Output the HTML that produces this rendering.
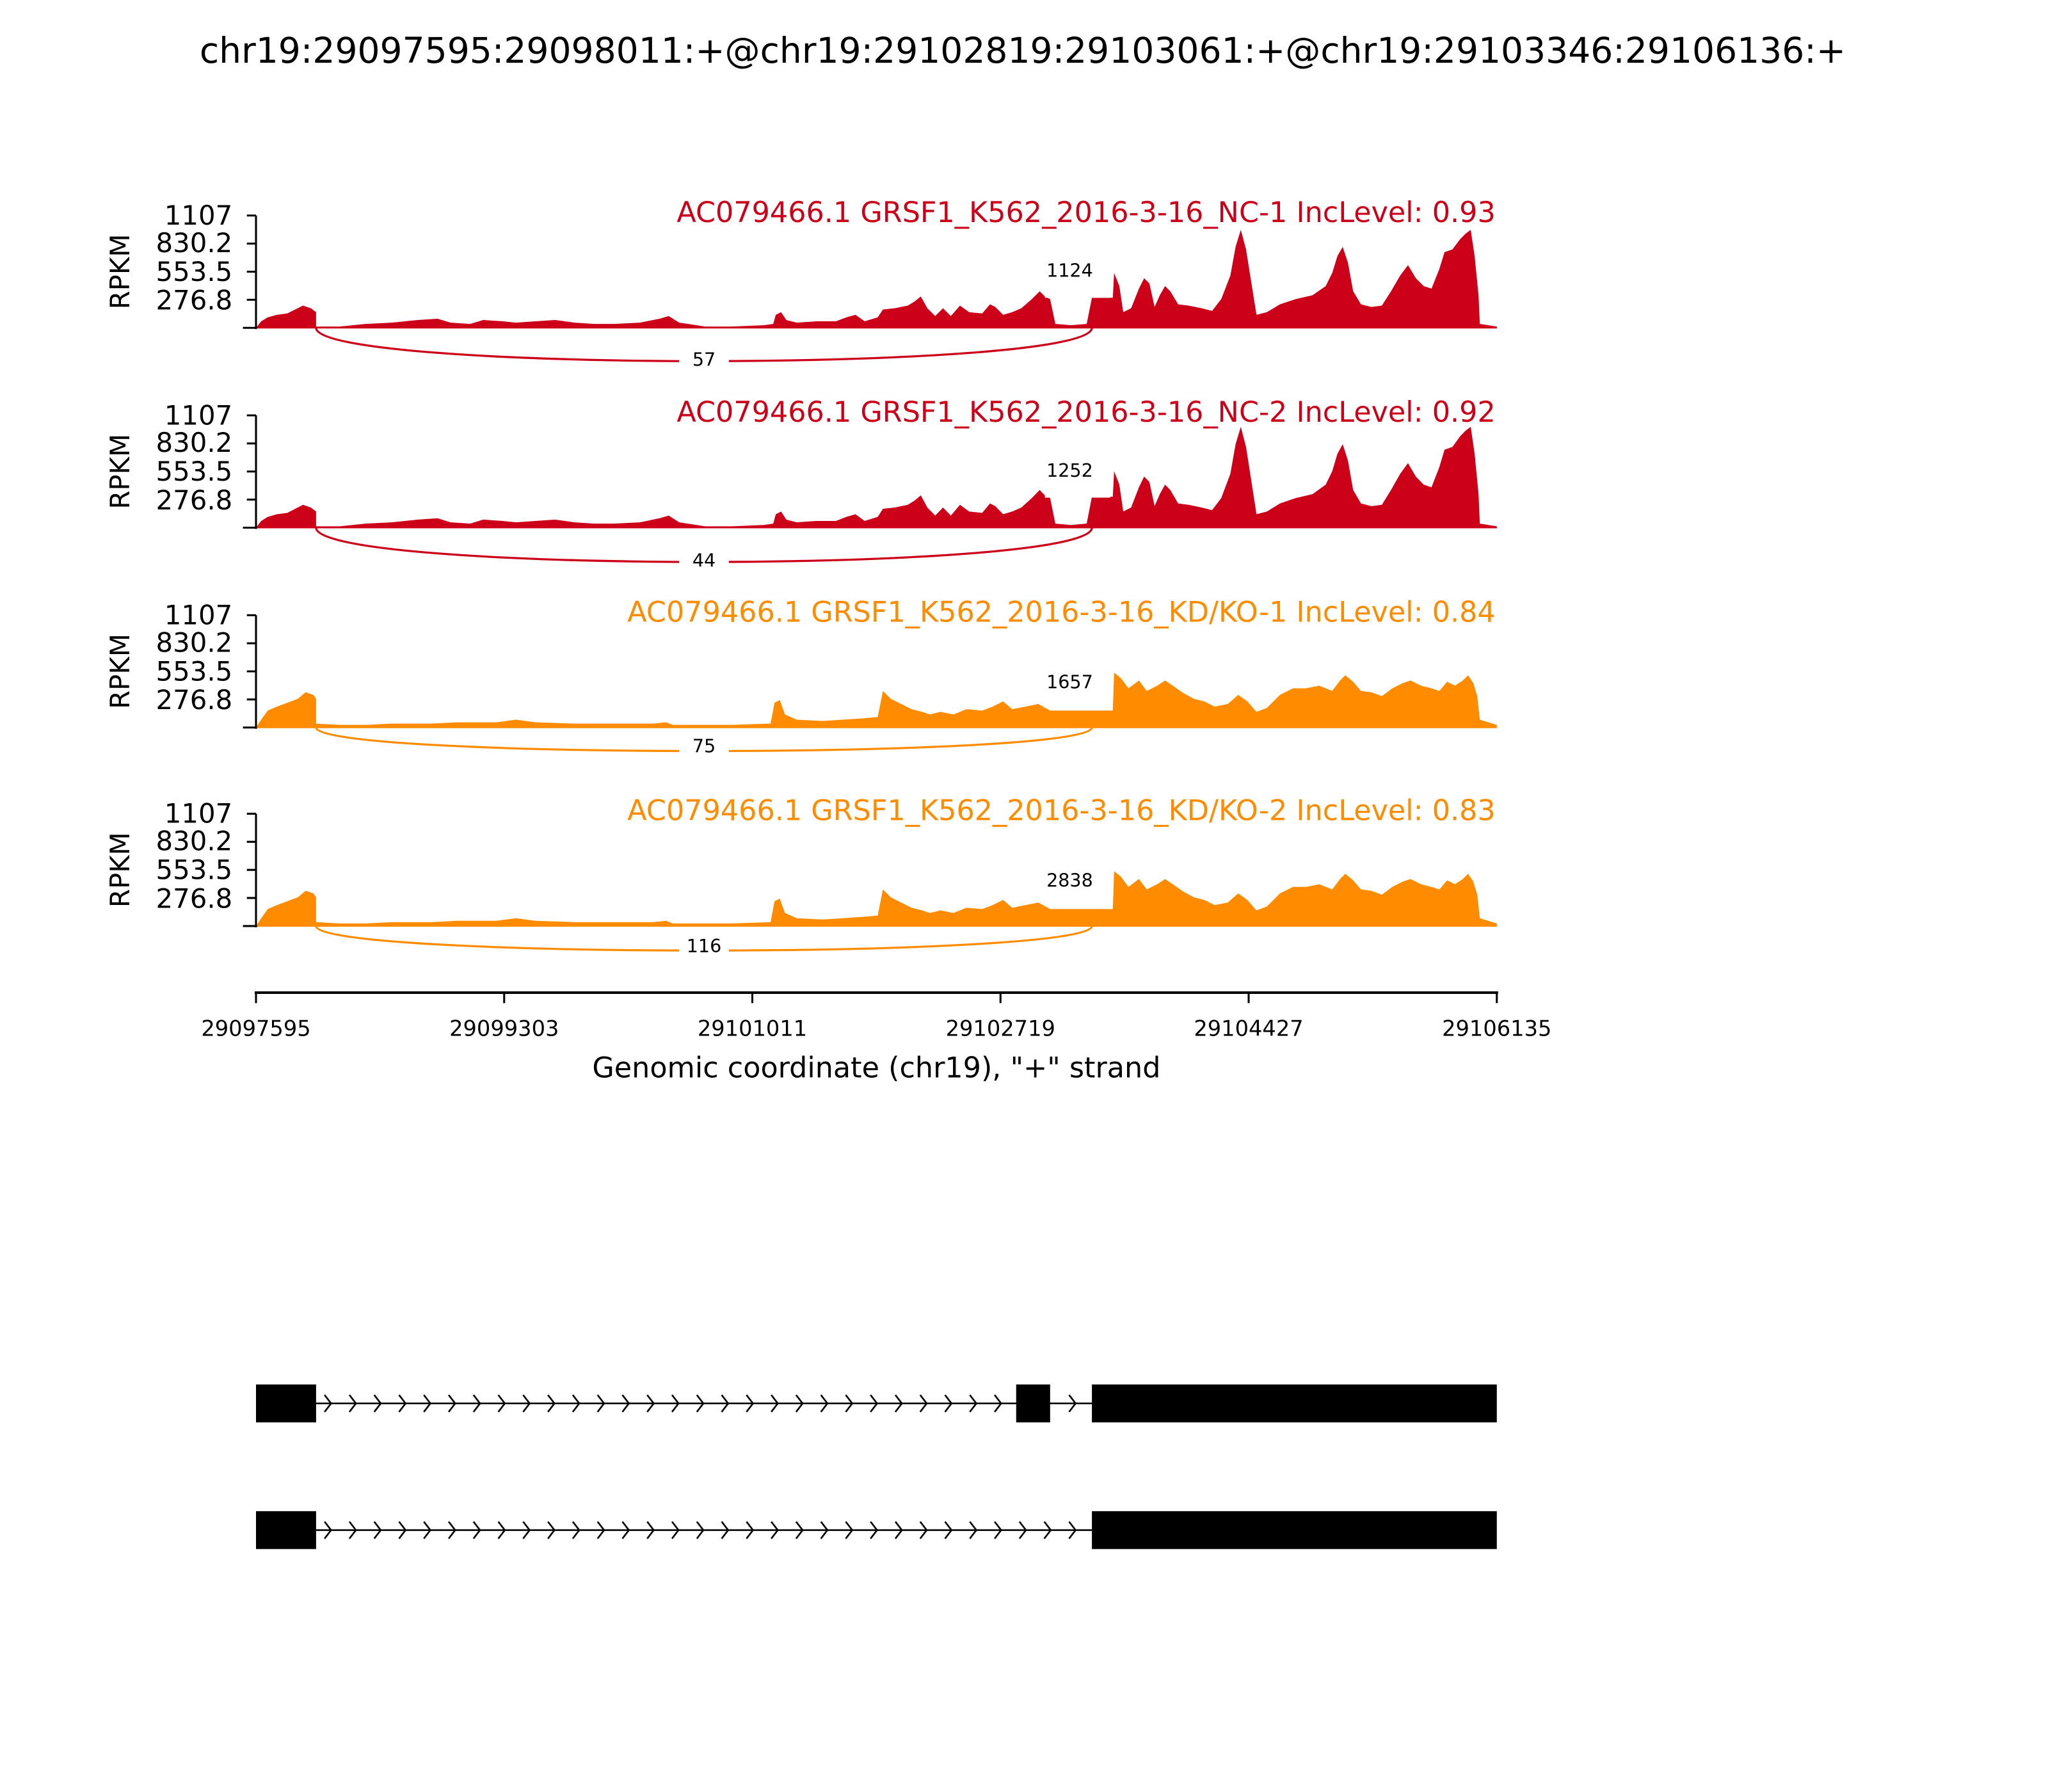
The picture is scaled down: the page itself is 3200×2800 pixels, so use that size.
<!DOCTYPE html>
<html><head><meta charset="utf-8"><style>html,body{margin:0;padding:0;background:#fff}svg{display:block}</style></head>
<body>
<svg width="3200" height="2800" viewBox="0 0 1568 1372" xmlns="http://www.w3.org/2000/svg" font-family="DejaVu Sans, Liberation Sans, sans-serif">
<defs>
<pattern id="chev" x="248" y="1060" width="19" height="30" patternUnits="userSpaceOnUse">
<path d="M0.5,8 L5.5,14.5 L0.5,21" fill="none" stroke="#000" stroke-width="1.3"/>
</pattern>
<pattern id="chev2" x="248" y="1157" width="19" height="30" patternUnits="userSpaceOnUse">
<path d="M0.5,8 L5.5,14.5 L0.5,21" fill="none" stroke="#000" stroke-width="1.3"/>
</pattern>
<polygon id="red" points="196,0 200,-5 205,-8 212,-10 220,-11 226,-14 232,-17 238,-15 242,-12 242,-1 260,-1 280,-3 300,-4 320,-6 335,-7 345,-4 360,-3 370,-6 385,-5 395,-4 410,-5 425,-6 440,-4 455,-3 470,-3 490,-4 505,-7 512,-9 520,-4 540,-1 560,-1 585,-2 592,-3 594,-10 598,-12 602,-6 610,-4 625,-5 640,-5 648,-8 655,-10 662,-5 672,-8 676,-14 685,-15 695,-17 700,-20 705,-24 710,-15 716,-9 722,-15 728,-9 735,-17 742,-12 752,-11 758,-18 762,-16 768,-10 775,-12 782,-15 790,-22 796,-28 800,-24 804,-22 808,-3 820,-2 832,-3 836,-23 852,-23 853,-42 857,-32 860,-12 866,-15 872,-30 876,-38 880,-34 884,-16 888,-25 892,-32 896,-28 902,-18 910,-17 920,-15 928,-13 935,-22 942,-40 946,-62 950,-75 954,-60 958,-35 962,-10 970,-12 980,-18 992,-22 1005,-25 1015,-32 1020,-42 1024,-55 1028,-62 1032,-50 1036,-28 1042,-18 1050,-16 1058,-17 1065,-28 1072,-40 1078,-48 1084,-38 1090,-32 1096,-30 1102,-45 1106,-58 1112,-60 1118,-68 1122,-72 1126,-75 1129,-55 1132,-25 1133,-3 1146,-1 1146,0"/>
<polygon id="org" points="196,0 200,-6 205,-13 212,-16 220,-19 228,-22 234,-27 240,-25 242,-22 242,-3 260,-2 280,-2 300,-3 330,-3 350,-4 380,-4 395,-6 410,-4 440,-3 470,-3 500,-3 510,-4 515,-2 545,-2 560,-2 590,-3 593,-19 597,-21 601,-10 610,-6 630,-5 645,-6 660,-7 672,-8 676,-28 682,-22 690,-18 698,-14 706,-12 712,-10 720,-12 730,-10 740,-14 752,-13 760,-16 768,-20 775,-14 785,-16 795,-18 804,-13 836,-13 852,-13 853,-42 858,-38 864,-30 872,-36 878,-28 886,-32 892,-36 898,-32 905,-27 914,-22 922,-20 930,-16 940,-18 948,-25 955,-20 962,-12 970,-15 980,-25 990,-30 1000,-30 1010,-32 1020,-28 1026,-36 1030,-40 1036,-35 1042,-28 1050,-27 1058,-24 1066,-30 1074,-34 1080,-36 1088,-32 1096,-30 1102,-28 1108,-35 1114,-32 1120,-36 1124,-40 1128,-34 1131,-24 1133,-6 1146,-2 1146,0"/>
</defs>

<text x="783" y="48" font-size="27" text-anchor="middle">chr19:29097595:29098011:+@chr19:29102819:29103061:+@chr19:29103346:29106136:+</text>

<g transform="translate(0,251)">
<use href="#red" fill="#cc0018"/>
<line x1="196" y1="0" x2="1146" y2="0" stroke="#cc0018" stroke-width="1"/>
</g>
<g transform="translate(0,404)">
<use href="#red" fill="#cc0018" transform="scale(1,1.03)"/>
<line x1="196" y1="0" x2="1146" y2="0" stroke="#cc0018" stroke-width="1"/>
</g>
<g transform="translate(0,557)">
<use href="#org" fill="#ff8c00"/>
<line x1="196" y1="0" x2="1146" y2="0" stroke="#ff8c00" stroke-width="1"/>
</g>
<g transform="translate(0,709)">
<use href="#org" fill="#ff8c00"/>
<line x1="196" y1="0" x2="1146" y2="0" stroke="#ff8c00" stroke-width="1"/>
</g>

<g font-size="14" text-anchor="middle">
<rect x="800" y="195" width="50" height="33" fill="#fff"/><text x="819" y="212">1124</text>
<rect x="800" y="348" width="50" height="33" fill="#fff"/><text x="819" y="365">1252</text>
<rect x="800" y="510" width="50" height="32" fill="#fff"/><text x="819" y="527">1657</text>
<rect x="800" y="662" width="50" height="32" fill="#fff"/><text x="819" y="679">2838</text>
</g>

<g fill="none" stroke-width="1.6">
<path d="M242,251 C242,285 836,285 836,251" stroke="#cc0018"/>
<path d="M242,404 C242,439 836,439 836,404" stroke="#cc0018"/>
<path d="M242,557 C242,581 836,581 836,557" stroke="#ff8c00"/>
<path d="M242,709 C242,734 836,734 836,709" stroke="#ff8c00"/>
</g>
<g font-size="14" text-anchor="middle">
<rect x="520" y="266" width="38" height="18" fill="#fff"/><text x="539" y="280">57</text>
<rect x="520" y="420" width="38" height="18" fill="#fff"/><text x="539" y="434">44</text>
<rect x="520" y="562" width="38" height="18" fill="#fff"/><text x="539" y="576">75</text>
<rect x="520" y="715" width="38" height="18" fill="#fff"/><text x="539" y="729">116</text>
</g>

<g font-size="21.8" text-anchor="end">
<text x="1145" y="170" fill="#cc0018">AC079466.1 GRSF1_K562_2016-3-16_NC-1 IncLevel: 0.93</text>
<text x="1145" y="323" fill="#cc0018">AC079466.1 GRSF1_K562_2016-3-16_NC-2 IncLevel: 0.92</text>
<text x="1145" y="476" fill="#ff8c00">AC079466.1 GRSF1_K562_2016-3-16_KD/KO-1 IncLevel: 0.84</text>
<text x="1145" y="628" fill="#ff8c00">AC079466.1 GRSF1_K562_2016-3-16_KD/KO-2 IncLevel: 0.83</text>
</g>

<g stroke="#000" stroke-width="1.5" fill="none">
<path d="M196,165 V252 M189,165 H196 M189,186.5 H196 M189,208 H196 M189,229.5 H196 M186,251 H196"/>
<path d="M196,318 V405 M189,318 H196 M189,339.5 H196 M189,361 H196 M189,382.5 H196 M186,404 H196"/>
<path d="M196,471 V558 M189,471 H196 M189,492.5 H196 M189,514 H196 M189,535.5 H196 M186,557 H196"/>
<path d="M196,623 V710 M189,623 H196 M189,644.5 H196 M189,666 H196 M189,687.5 H196 M186,709 H196"/>
</g>
<g font-size="20.5" text-anchor="end">
<text x="178" y="172">1107</text><text x="178" y="193">830.2</text><text x="178" y="215">553.5</text><text x="178" y="237">276.8</text>
<text x="178" y="325">1107</text><text x="178" y="346">830.2</text><text x="178" y="368">553.5</text><text x="178" y="390">276.8</text>
<text x="178" y="478">1107</text><text x="178" y="499">830.2</text><text x="178" y="521">553.5</text><text x="178" y="543">276.8</text>
<text x="178" y="630">1107</text><text x="178" y="651">830.2</text><text x="178" y="673">553.5</text><text x="178" y="695">276.8</text>
</g>
<g font-size="20.5" text-anchor="middle">
<text transform="translate(99,208) rotate(-90)">RPKM</text>
<text transform="translate(99,361) rotate(-90)">RPKM</text>
<text transform="translate(99,514) rotate(-90)">RPKM</text>
<text transform="translate(99,666) rotate(-90)">RPKM</text>
</g>

<g stroke="#000" stroke-width="1.5">
<line x1="195" y1="760" x2="1147" y2="760" stroke-width="2"/>
<path d="M196,760 V768 M386,760 V768 M576,760 V768 M766,760 V768 M956,760 V768 M1146,760 V768"/>
</g>
<g font-size="16.5" text-anchor="middle">
<text x="196" y="793">29097595</text><text x="386" y="793">29099303</text><text x="576" y="793">29101011</text>
<text x="766" y="793">29102719</text><text x="956" y="793">29104427</text><text x="1146" y="793">29106135</text>
</g>
<text x="671" y="825" font-size="21.8" text-anchor="middle">Genomic coordinate (chr19), "+" strand</text>

<line x1="242" y1="1074.5" x2="836" y2="1074.5" stroke="#000" stroke-width="1.3"/>
<rect x="243" y="1060" width="533" height="30" fill="url(#chev)"/>
<path d="M818.5,1068 L823.5,1074.5 L818.5,1081" fill="none" stroke="#000" stroke-width="1.3"/>
<rect x="196" y="1060" width="46" height="29" fill="#000"/>
<rect x="778" y="1060" width="26" height="29" fill="#000"/>
<rect x="836" y="1060" width="310" height="29" fill="#000"/>

<line x1="242" y1="1171.5" x2="836" y2="1171.5" stroke="#000" stroke-width="1.3"/>
<rect x="243" y="1157" width="590" height="30" fill="url(#chev2)"/>
<rect x="196" y="1157" width="46" height="29" fill="#000"/>
<rect x="836" y="1157" width="310" height="29" fill="#000"/>
</svg>
</body></html>
